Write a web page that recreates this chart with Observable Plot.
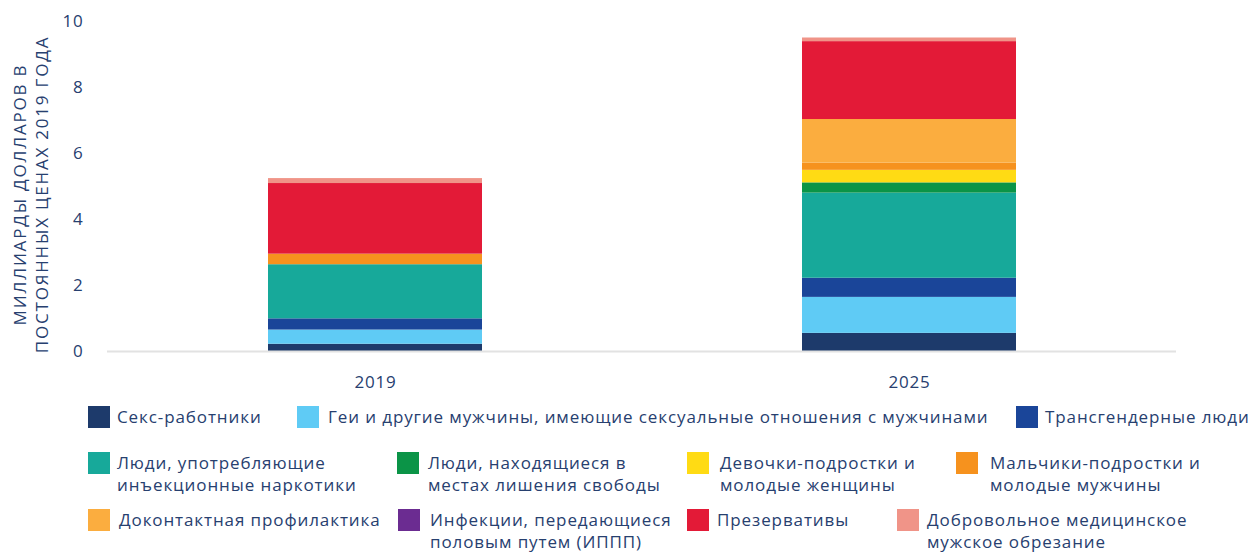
<!DOCTYPE html>
<html>
<head>
<meta charset="utf-8">
<script src="https://cdn.jsdelivr.net/npm/d3@7"></script>
<script src="https://cdn.jsdelivr.net/npm/@observablehq/plot@0.6"></script>
<style>
  html, body { margin: 0; padding: 0; background: #fff; }
  #wrap { position: relative; width: 1259px; height: 554px; font-family: "Open Sans", sans-serif; color: #27406f; }
  #chart { position: absolute; left: 0; top: 0; }
  #chart svg text { letter-spacing: 0.8px; }
  #chart svg g[aria-label="text"] text { letter-spacing: 1.8px; }
  .sw { position: absolute; width: 22px; height: 22px; }
  .lbl { position: absolute; font-size: 17px; line-height: 22px; white-space: pre; letter-spacing: 0.9px; }
</style>
</head>
<body>
<div id="wrap"><div id="chart"></div><div id="legend"></div></div>
<script>
// ---- data ----
const years = ["2019", "2025"];
const groups = [
  "Секс-работники",
  "Геи и другие мужчины, имеющие сексуальные отношения с мужчинами",
  "Трансгендерные люди",
  "Люди, употребляющие\nинъекционные наркотики",
  "Люди, находящиеся в\nместах лишения свободы",
  "Девочки-подростки и\nмолодые женщины",
  "Мальчики-подростки и\nмолодые мужчины",
  "Доконтактная профилактика",
  "Инфекции, передающиеся\nполовым путем (ИППП)",
  "Презервативы",
  "Добровольное медицинское\nмужское обрезание"
];
const colors = ["#1d3a6b", "#5fcbf5", "#1a4599", "#17a99a", "#0b9447", "#ffdb14", "#f6921e", "#fbad3f", "#6b2c91", "#e31a37", "#f09488"];
const values2019 = [0.22, 0.43, 0.34, 1.64, 0, 0, 0.32, 0, 0, 2.14, 0.15];
const values2025 = [0.55, 1.09, 0.58, 2.58, 0.31, 0.38, 0.22, 1.32, 0, 2.36, 0.11];
const yTicks = [0, 2, 4, 6, 8, 10];
const yLabel = "МИЛЛИАРДЫ ДОЛЛАРОВ В\nПОСТОЯННЫХ ЦЕНАХ 2019 ГОДА";

// ---- legend layout (swatch left, top, text left) ----
const legendLayout = [
  [88, 406, 117], [297, 406, 328], [1016, 406, 1045],
  [88, 452, 117], [397, 452, 428], [687, 452, 720], [956, 452, 990],
  [88, 509, 119], [398, 509, 430], [687, 509, 717], [897, 509, 927]
];

const ink = "#27406f";
const seriesByYear = {"2019": values2019, "2025": values2025};
const data = [];
for (const yr of years) groups.forEach((g, i) => data.push({year: yr, group: g, value: seriesByYear[yr][i]}));

const chart = Plot.plot({
  width: 1259,
  height: 400,
  marginTop: 21,
  marginBottom: 49,
  marginLeft: 107,
  marginRight: 83,
  style: {fontFamily: "'Open Sans', sans-serif", fontSize: "17px", color: ink, background: "white"},
  x: {domain: years, paddingInner: 0.6, paddingOuter: 0.3, label: null, tickSize: 0, tickPadding: 24},
  y: {domain: [0, 10], ticks: yTicks, label: null, tickSize: 0, tickPadding: 24},
  color: {domain: groups, range: colors},
  marks: [
    Plot.barY(data, {x: "year", y: "value", fill: "group"}),
    Plot.ruleY([0], {stroke: "#e2e2e2", strokeWidth: 2}),
    Plot.text([yLabel], {frameAnchor: "left", text: d => d, rotate: -90, textAnchor: "middle", lineAnchor: "middle", lineHeight: 1.3, dx: -78, dy: 8, fill: ink, fontSize: 17})
  ]
});
document.getElementById("chart").appendChild(chart);

const legend = document.getElementById("legend");
groups.forEach((g, i) => {
  const [sx, top, tx] = legendLayout[i];
  const sw = document.createElement("div");
  sw.className = "sw";
  sw.style.left = sx + "px";
  sw.style.top = top + "px";
  sw.style.background = colors[i];
  legend.appendChild(sw);
  const t = document.createElement("div");
  t.className = "lbl";
  t.style.left = tx + "px";
  t.style.top = top + "px";
  t.textContent = g;
  legend.appendChild(t);
});
</script>
</body>
</html>
